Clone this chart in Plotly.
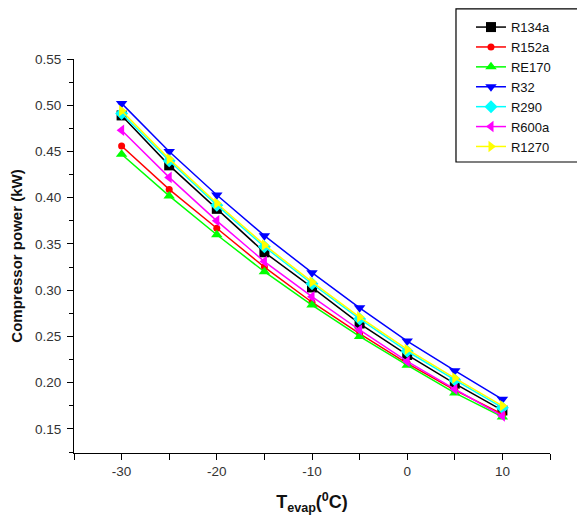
import plotly.graph_objects as go

T_evap = [-30, -25, -20, -15, -10, -5, 0, 5, 10]
R134a = [0.489, 0.435, 0.388, 0.341, 0.303, 0.264, 0.230, 0.199, 0.170]
R152a = [0.456, 0.409, 0.367, 0.325, 0.287, 0.253, 0.221, 0.192, 0.166]
RE170 = [0.447, 0.402, 0.360, 0.320, 0.284, 0.250, 0.219, 0.189, 0.163]
R32 = [0.502, 0.450, 0.403, 0.359, 0.319, 0.281, 0.245, 0.213, 0.182]
R290 = [0.491, 0.440, 0.392, 0.347, 0.307, 0.269, 0.234, 0.203, 0.173]
R600a = [0.473, 0.422, 0.375, 0.331, 0.293, 0.257, 0.223, 0.193, 0.164]
R1270 = [0.494, 0.442, 0.394, 0.349, 0.309, 0.271, 0.236, 0.205, 0.175]

x_tick_vals = [-30, -20, -10, 0, 10]
x_tick_text = ["-30", "-20", "-10", "0", "10"]
y_tick_vals = [0.15, 0.20, 0.25, 0.30, 0.35, 0.40, 0.45, 0.50, 0.55]

series = [
    ("R134a", R134a, "#000000", "square"),
    ("R152a", R152a, "#ff0000", "circle"),
    ("RE170", RE170, "#00ff00", "triangle-up"),
    ("R32", R32, "#0000ff", "triangle-down"),
    ("R290", R290, "#00ffff", "diamond"),
    ("R600a", R600a, "#ff00ff", "triangle-left"),
    ("R1270", R1270, "#ffff00", "triangle-right"),
]

fig = go.Figure()
for name, vals, col, sym in series:
    fig.add_trace(go.Scatter(
        x=T_evap, y=vals, name=name, mode="lines+markers",
        line=dict(color=col, width=1.5),
        marker=dict(symbol=sym, color=col, size=10 if sym != "circle" else 7),
    ))

# legend frame
fig.add_shape(type="rect", xref="paper", yref="paper",
              x0=0.8025, x1=1.0714, y0=0.7386, y1=1.127,
              line=dict(color="black", width=1.2), fillcolor="rgba(0,0,0,0)")

fig.update_layout(
    width=585, height=520,
    margin=dict(l=66, r=43, t=51, b=75, autoexpand=False),
    paper_bgcolor="white", plot_bgcolor="white",
    font=dict(family="Liberation Sans, Arial, sans-serif", color="#222"),
    showlegend=True,
    legend=dict(
        x=0.834, y=1.119, xanchor="left", yanchor="top",
        borderwidth=0, bgcolor="rgba(0,0,0,0)",
        font=dict(size=13, color="#111"),
        tracegroupgap=0,
    ),
    xaxis=dict(
        range=[-35, 15], tickvals=x_tick_vals, ticktext=x_tick_text,
        ticks="outside", ticklen=6, tickwidth=1, tickcolor="black",
        minor=dict(dtick=5, tick0=-35, ticks="outside", ticklen=6, tickcolor="black"),
        showline=True, linecolor="black", linewidth=1,
        showgrid=False, zeroline=False,
        tickfont=dict(size=13.5, color="#333"),
        title=dict(text="<b>T<sub>evap</sub>(<sup>0</sup>C)</b>", font=dict(size=18, color="#111"), standoff=17),
    ),
    yaxis=dict(
        range=[0.124, 0.55], tickvals=y_tick_vals,
        tickformat=".2f",
        ticks="outside", ticklen=6, tickwidth=1, tickcolor="black",
        minor=dict(dtick=0.025, tick0=0.125, ticks="outside", ticklen=4, tickcolor="black"),
        showline=True, linecolor="black", linewidth=1,
        showgrid=False, zeroline=False,
        tickfont=dict(size=13.5, color="#333"),
        ticklabelstandoff=3,
        title=dict(text="<b>Compressor power (kW)</b>", font=dict(size=15, color="#111"), standoff=12),
    ),
)

fig.write_html("out.html")
